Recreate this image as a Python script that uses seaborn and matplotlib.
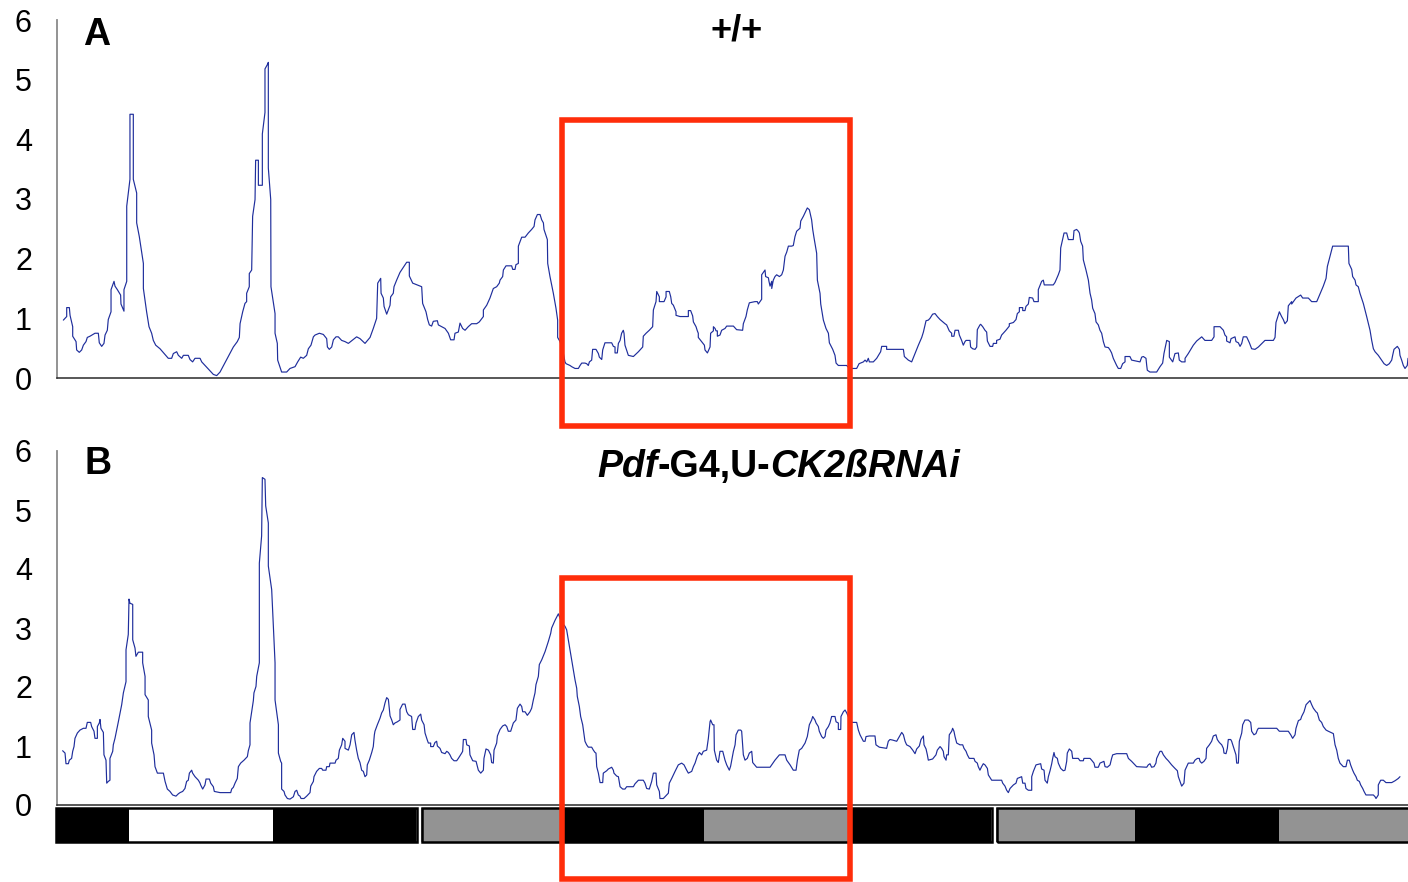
import matplotlib
matplotlib.use("Agg")
import matplotlib.pyplot as plt
import pandas as pd
import seaborn as sns
from matplotlib.patches import Rectangle
from matplotlib.offsetbox import TextArea, HPacker, AnchoredOffsetbox

sns.set_style("white")
plt.rcParams["font.family"] = ["Liberation Sans", "DejaVu Sans"]
plt.rcParams["text.color"] = "black"
plt.rcParams["ytick.color"] = "black"
plt.rcParams["ytick.labelcolor"] = "black"

# activity traces: (hours from start of recording, activity)
wt_points = [
    (0.53, 0.97), (0.81, 1.03), (0.81, 1.18), (1.03, 1.18), (1.09, 1.05), (1.31, 0.86), (1.31, 0.70), (1.59, 0.61), (1.64, 0.47), (1.86, 0.43),
    (2.06, 0.47), (2.20, 0.55), (2.42, 0.61), (2.53, 0.68), (2.75, 0.70), (3.17, 0.75), (3.45, 0.75), (3.53, 0.59), (3.73, 0.53), (3.92, 0.58),
    (4.01, 0.72), (4.20, 0.80), (4.28, 0.98), (4.51, 1.11), (4.51, 1.48), (4.76, 1.62), (4.84, 1.54), (5.04, 1.48), (5.31, 1.39), (5.34, 1.24),
    (5.59, 1.12), (5.59, 1.48), (5.82, 1.62), (5.82, 2.88), (5.95, 3.10), (6.09, 3.33), (6.09, 4.42), (6.37, 4.42), (6.37, 3.33), (6.65, 3.10),
    (6.65, 2.60), (6.87, 2.37), (7.21, 1.92), (7.21, 1.50), (7.48, 1.11), (7.68, 0.86), (7.90, 0.75), (8.04, 0.63), (8.24, 0.55), (8.60, 0.49),
    (9.29, 0.33), (9.57, 0.33), (9.71, 0.41), (9.99, 0.44), (10.13, 0.38), (10.41, 0.33), (10.55, 0.38), (10.96, 0.38), (11.10, 0.31), (11.32, 0.27),
    (11.52, 0.33), (11.94, 0.33), (12.08, 0.27), (13.05, 0.06), (13.33, 0.04), (13.61, 0.10), (14.72, 0.52), (15.05, 0.61), (15.22, 0.68), (15.28, 0.91),
    (15.50, 1.11), (15.69, 1.25), (15.83, 1.28), (15.83, 1.42), (16.05, 1.53), (16.05, 1.75), (16.25, 1.81), (16.33, 2.71), (16.53, 2.99), (16.58, 3.65),
    (16.81, 3.65), (16.81, 3.23), (17.14, 3.23), (17.14, 4.09), (17.36, 4.45), (17.36, 5.18), (17.58, 5.26), (17.64, 5.29), (17.64, 3.52), (17.84, 2.99),
    (17.86, 1.53), (18.20, 1.08), (18.20, 0.75), (18.39, 0.58), (18.42, 0.30), (18.75, 0.10), (19.17, 0.10), (19.45, 0.16), (19.87, 0.19), (20.09, 0.27),
    (20.34, 0.35), (20.56, 0.33), (20.84, 0.38), (20.98, 0.49), (21.20, 0.55), (21.40, 0.69), (21.54, 0.72), (21.90, 0.75), (22.23, 0.73), (22.51, 0.66),
    (22.57, 0.52), (22.73, 0.48), (22.93, 0.52), (23.07, 0.64), (23.29, 0.69), (23.48, 0.69), (23.76, 0.63), (24.04, 0.61), (24.32, 0.58), (25.01, 0.69),
    (25.29, 0.66), (25.71, 0.58), (26.13, 0.68), (26.40, 0.83), (26.68, 1.00), (26.77, 1.59), (27.02, 1.67), (27.05, 1.42), (27.24, 1.34), (27.30, 1.20),
    (27.52, 1.07), (27.80, 1.22), (27.85, 1.36), (28.07, 1.42), (28.13, 1.53), (28.35, 1.64), (28.63, 1.77), (28.96, 1.87), (29.19, 1.94), (29.41, 1.94),
    (29.41, 1.71), (29.69, 1.59), (30.44, 1.53), (30.52, 1.25), (30.80, 1.11), (30.94, 0.98), (31.08, 0.89), (31.27, 0.87), (31.41, 0.95), (31.75, 0.96),
    (31.83, 0.89), (32.11, 0.86), (32.39, 0.83), (32.67, 0.75), (32.86, 0.64), (33.14, 0.64), (33.22, 0.75), (33.50, 0.77), (33.64, 0.92), (33.86, 0.83),
    (34.06, 0.80), (34.33, 0.86), (34.61, 0.91), (35.03, 0.91), (35.25, 0.94), (35.59, 1.03), (35.59, 1.14), (35.87, 1.22), (36.14, 1.34), (36.42, 1.50),
    (36.70, 1.53), (36.92, 1.59), (36.98, 1.64), (37.20, 1.70), (37.26, 1.81), (37.48, 1.88), (37.95, 1.88), (38.04, 1.82), (38.23, 1.82), (38.31, 1.90),
    (38.51, 1.92), (38.51, 2.21), (38.79, 2.36), (39.07, 2.36), (39.34, 2.43), (39.62, 2.49), (39.82, 2.54), (39.90, 2.65), (40.10, 2.74), (40.32, 2.74),
    (40.46, 2.65), (40.60, 2.60), (40.65, 2.49), (40.93, 2.32), (40.96, 1.92), (41.15, 1.70), (41.43, 1.42), (41.65, 1.17), (41.79, 0.97), (41.79, 0.68),
    (41.99, 0.61), (42.27, 0.41), (42.40, 0.27), (42.49, 0.24), (42.82, 0.21), (42.96, 0.19), (43.24, 0.16), (43.52, 0.16), (43.66, 0.21), (43.80, 0.25),
    (44.07, 0.25), (44.21, 0.24), (44.35, 0.21), (44.44, 0.27), (44.63, 0.30), (44.71, 0.48), (44.99, 0.48), (45.19, 0.41), (45.27, 0.35), (45.47, 0.31),
    (45.55, 0.47), (45.74, 0.59), (46.30, 0.59), (46.44, 0.53), (46.58, 0.52), (46.58, 0.42), (46.77, 0.42), (46.86, 0.58), (47.00, 0.63), (47.13, 0.75),
    (47.27, 0.80), (47.33, 0.75), (47.41, 0.55), (47.69, 0.38), (48.11, 0.36), (48.53, 0.44), (48.89, 0.52), (48.94, 0.70), (49.17, 0.75), (49.44, 0.80),
    (49.72, 0.86), (49.78, 1.14), (50.00, 1.28), (50.06, 1.45), (50.28, 1.36), (50.28, 1.28), (50.67, 1.28), (50.84, 1.36), (50.84, 1.45), (51.11, 1.45),
    (51.23, 1.36), (51.31, 1.25), (51.45, 1.22), (51.67, 1.11), (51.67, 1.05), (52.00, 1.03), (52.70, 1.03), (52.70, 1.13), (52.89, 1.13), (53.06, 1.04),
    (53.12, 0.94), (53.34, 0.86), (53.45, 0.79), (53.53, 0.75), (53.53, 0.68), (53.81, 0.61), (54.04, 0.55), (54.09, 0.47), (54.29, 0.42), (54.51, 0.52),
    (54.56, 0.75), (54.79, 0.79), (54.79, 0.86), (54.93, 0.83), (55.01, 0.79), (55.12, 0.79), (55.12, 0.70), (55.34, 0.72), (55.48, 0.80), (55.76, 0.83),
    (55.90, 0.87), (56.46, 0.87), (56.73, 0.81), (57.23, 0.80), (57.29, 0.91), (57.51, 1.03), (57.62, 1.14), (57.79, 1.26), (58.26, 1.28), (58.46, 1.28),
    (58.54, 1.24), (58.82, 1.32), (58.82, 1.73), (59.10, 1.81), (59.15, 1.70), (59.38, 1.68), (59.43, 1.62), (59.52, 1.54), (59.66, 1.62), (59.66, 1.50),
    (59.79, 1.64), (59.93, 1.70), (60.07, 1.73), (60.30, 1.70), (60.49, 1.73), (60.63, 1.81), (60.77, 2.04), (60.91, 2.11), (61.05, 2.21), (61.32, 2.21),
    (61.46, 2.22), (61.60, 2.37), (61.74, 2.46), (62.02, 2.51), (62.08, 2.63), (62.30, 2.71), (62.49, 2.79), (62.63, 2.85), (62.80, 2.82), (62.99, 2.65),
    (63.08, 2.49), (63.19, 2.35), (63.41, 2.09), (63.47, 1.64), (63.69, 1.42), (63.75, 1.24), (63.97, 0.97), (64.19, 0.83), (64.39, 0.75), (64.47, 0.59),
    (64.75, 0.48), (64.94, 0.38), (65.03, 0.25), (65.22, 0.21), (65.92, 0.21), (66.00, 0.19), (66.33, 0.16), (66.75, 0.16), (66.95, 0.24), (67.31, 0.27),
    (67.45, 0.30), (67.59, 0.27), (67.72, 0.33), (67.81, 0.27), (68.14, 0.27), (68.42, 0.33), (68.75, 0.44), (68.84, 0.53), (69.25, 0.53), (69.25, 0.48),
    (70.65, 0.48), (70.73, 0.36), (71.06, 0.30), (71.34, 0.27), (71.48, 0.34), (71.90, 0.55), (72.18, 0.68), (72.32, 0.77), (72.54, 0.96), (72.73, 0.97),
    (72.87, 1.00), (73.09, 1.07), (73.29, 1.08), (73.48, 1.03), (73.71, 0.98), (74.12, 0.91), (74.26, 0.89), (74.48, 0.79), (74.68, 0.75), (74.68, 0.70),
    (74.87, 0.70), (74.96, 0.80), (75.24, 0.80), (75.32, 0.72), (75.51, 0.63), (75.65, 0.55), (75.79, 0.61), (75.88, 0.63), (76.21, 0.63), (76.26, 0.52),
    (76.43, 0.49), (76.63, 0.48), (76.77, 0.52), (76.82, 0.81), (77.04, 0.89), (77.10, 0.90), (77.27, 0.86), (77.46, 0.80), (77.60, 0.77), (77.66, 0.62),
    (77.88, 0.53), (78.10, 0.53), (78.16, 0.58), (78.43, 0.58), (78.43, 0.63), (78.71, 0.65), (78.85, 0.72), (79.21, 0.80), (79.49, 0.87), (79.49, 0.91),
    (79.83, 0.93), (80.05, 0.98), (80.16, 1.08), (80.33, 1.11), (80.33, 1.18), (80.61, 1.18), (80.61, 1.13), (80.80, 1.13), (80.88, 1.20), (81.08, 1.24),
    (81.16, 1.35), (81.44, 1.34), (81.55, 1.28), (81.91, 1.28), (81.91, 1.48), (82.19, 1.62), (82.33, 1.64), (82.41, 1.56), (83.16, 1.56), (83.30, 1.60),
    (83.58, 1.73), (83.72, 1.81), (83.78, 2.18), (83.94, 2.32), (84.06, 2.43), (84.28, 2.43), (84.42, 2.32), (84.83, 2.32), (84.89, 2.47), (85.11, 2.49),
    (85.25, 2.46), (85.34, 2.43), (85.45, 2.29), (85.61, 2.21), (85.67, 1.98), (85.89, 1.81), (86.09, 1.64), (86.23, 1.42), (86.36, 1.31), (86.45, 1.17),
    (86.64, 1.08), (86.73, 0.94), (86.92, 0.89), (87.06, 0.80), (87.20, 0.75), (87.34, 0.61), (87.48, 0.52), (87.76, 0.51), (87.90, 0.47), (88.03, 0.42),
    (88.17, 0.33), (88.31, 0.27), (88.45, 0.21), (88.59, 0.16), (88.79, 0.16), (88.95, 0.24), (89.15, 0.27), (89.15, 0.36), (89.56, 0.36), (89.70, 0.30),
    (90.40, 0.27), (90.54, 0.35), (90.68, 0.36), (90.90, 0.33), (90.96, 0.21), (91.01, 0.13), (91.23, 0.10), (91.79, 0.10), (92.07, 0.19), (92.29, 0.25),
    (92.40, 0.41), (92.63, 0.63), (92.85, 0.61), (92.85, 0.35), (93.13, 0.27), (93.32, 0.41), (93.60, 0.42), (93.68, 0.30), (93.88, 0.27), (94.16, 0.27),
    (94.16, 0.33), (94.43, 0.41), (94.85, 0.55), (95.13, 0.62), (95.55, 0.69), (95.82, 0.63), (96.38, 0.63), (96.58, 0.69), (96.58, 0.86), (97.08, 0.86),
    (97.36, 0.80), (97.49, 0.72), (97.63, 0.69), (97.63, 0.62), (97.91, 0.59), (98.00, 0.66), (98.33, 0.69), (98.41, 0.61), (98.61, 0.59), (98.75, 0.53),
    (98.89, 0.58), (99.02, 0.69), (99.30, 0.69), (99.53, 0.59), (99.72, 0.49), (100.00, 0.48), (100.28, 0.52), (100.83, 0.63), (101.53, 0.63), (101.67, 0.68),
    (101.75, 0.93), (102.03, 1.11), (102.22, 1.03), (102.36, 0.98), (102.50, 0.91), (102.70, 0.96), (102.78, 1.21), (103.06, 1.28), (103.06, 1.24), (103.42, 1.34),
    (103.81, 1.39), (103.98, 1.34), (104.45, 1.34), (104.73, 1.28), (105.15, 1.28), (105.28, 1.34), (105.70, 1.54), (105.93, 1.67), (106.04, 1.87), (106.26, 2.04),
    (106.48, 2.21), (107.79, 2.21), (107.84, 1.92), (108.07, 1.82), (108.15, 1.70), (108.35, 1.64), (108.43, 1.56), (108.62, 1.53), (108.76, 1.42), (109.04, 1.25),
    (109.32, 1.03), (109.60, 0.80), (109.74, 0.63), (109.88, 0.49), (110.02, 0.44), (110.29, 0.38), (110.57, 0.30), (110.77, 0.24), (110.99, 0.21), (111.21, 0.24),
    (111.41, 0.30), (111.49, 0.38), (111.60, 0.48), (111.88, 0.53), (112.05, 0.48), (112.10, 0.38), (112.24, 0.30), (112.38, 0.21), (112.52, 0.16), (112.71, 0.21),
    (112.77, 0.33),
]

rnai_points = [
    (0.47, 0.92), (0.67, 0.88), (0.75, 0.70), (0.95, 0.70), (1.03, 0.76), (1.22, 0.79), (1.31, 0.91), (1.42, 0.99), (1.50, 1.13), (1.70, 1.22),
    (1.92, 1.27), (2.20, 1.30), (2.42, 1.30), (2.53, 1.40), (2.81, 1.40), (2.89, 1.33), (3.09, 1.25), (3.17, 1.13), (3.37, 1.13), (3.37, 1.33),
    (3.53, 1.39), (3.59, 1.45), (3.67, 1.30), (3.87, 1.23), (3.92, 0.85), (4.09, 0.76), (4.15, 0.37), (4.28, 0.40), (4.42, 0.42), (4.42, 0.79),
    (4.65, 0.91), (4.70, 1.02), (4.84, 1.13), (4.98, 1.27), (5.12, 1.41), (5.26, 1.56), (5.40, 1.70), (5.54, 1.90), (5.76, 2.09), (5.76, 2.63),
    (5.95, 2.89), (6.01, 3.49), (6.09, 3.42), (6.32, 3.40), (6.32, 2.80), (6.51, 2.66), (6.59, 2.52), (6.79, 2.59), (7.15, 2.59), (7.15, 2.41),
    (7.35, 2.18), (7.35, 1.87), (7.62, 1.78), (7.62, 1.50), (7.90, 1.27), (7.90, 1.05), (8.10, 0.85), (8.18, 0.65), (8.38, 0.54), (8.88, 0.54),
    (9.02, 0.40), (9.21, 0.27), (9.43, 0.23), (9.65, 0.17), (9.93, 0.15), (10.13, 0.19), (10.27, 0.21), (10.49, 0.23), (10.68, 0.28), (10.82, 0.40),
    (10.96, 0.42), (11.05, 0.54), (11.24, 0.59), (11.32, 0.54), (11.52, 0.48), (11.66, 0.45), (11.80, 0.42), (11.94, 0.37), (11.99, 0.34), (12.16, 0.27),
    (12.35, 0.34), (12.44, 0.44), (12.72, 0.44), (12.83, 0.37), (13.05, 0.31), (13.13, 0.23), (13.61, 0.21), (14.50, 0.21), (14.58, 0.27), (14.72, 0.30),
    (14.86, 0.37), (15.05, 0.45), (15.14, 0.65), (15.33, 0.71), (15.50, 0.74), (15.61, 0.76), (15.89, 0.82), (15.97, 0.92), (16.11, 1.02), (16.11, 1.39),
    (16.25, 1.58), (16.39, 1.77), (16.44, 1.90), (16.61, 2.01), (16.67, 2.18), (16.89, 2.41), (16.89, 4.10), (17.08, 4.56), (17.14, 5.55), (17.36, 5.52),
    (17.42, 5.07), (17.64, 4.78), (17.64, 4.05), (17.92, 3.65), (18.20, 2.41), (18.20, 1.78), (18.48, 1.36), (18.48, 0.88), (18.67, 0.74), (18.75, 0.71),
    (18.75, 0.27), (18.95, 0.23), (19.03, 0.17), (19.23, 0.11), (19.45, 0.10), (19.73, 0.14), (19.87, 0.23), (20.01, 0.25), (20.14, 0.17), (20.28, 0.15),
    (20.37, 0.11), (20.62, 0.11), (20.84, 0.15), (21.12, 0.21), (21.18, 0.32), (21.40, 0.40), (21.45, 0.48), (21.67, 0.57), (21.90, 0.62), (22.09, 0.62),
    (22.18, 0.59), (22.45, 0.59), (22.51, 0.65), (22.73, 0.65), (22.79, 0.71), (23.21, 0.71), (23.29, 0.76), (23.48, 0.79), (23.57, 0.93), (23.76, 1.02),
    (23.85, 1.13), (24.04, 1.08), (24.04, 0.96), (24.32, 0.93), (24.46, 1.02), (24.60, 1.19), (24.79, 1.23), (24.87, 1.10), (25.01, 0.93), (25.15, 0.79),
    (25.29, 0.72), (25.43, 0.59), (25.57, 0.57), (25.71, 0.48), (25.85, 0.51), (25.90, 0.68), (26.07, 0.76), (26.27, 0.89), (26.40, 0.99), (26.49, 1.19),
    (26.54, 1.25), (26.74, 1.36), (26.96, 1.47), (27.10, 1.56), (27.24, 1.61), (27.38, 1.73), (27.52, 1.82), (27.66, 1.79), (27.80, 1.51), (27.94, 1.44),
    (28.07, 1.36), (28.21, 1.39), (28.41, 1.41), (28.63, 1.44), (28.63, 1.62), (28.85, 1.71), (29.05, 1.71), (29.19, 1.58), (29.33, 1.53), (29.60, 1.50),
    (29.69, 1.28), (29.88, 1.28), (29.97, 1.39), (30.16, 1.50), (30.36, 1.54), (30.44, 1.44), (30.64, 1.36), (30.72, 1.22), (30.91, 1.10), (31.00, 1.05),
    (31.19, 1.05), (31.19, 0.99), (31.41, 0.99), (31.55, 1.06), (31.69, 1.08), (31.75, 1.00), (31.97, 0.96), (32.11, 0.89), (32.39, 0.87), (32.53, 0.91),
    (32.67, 0.89), (32.80, 0.85), (32.94, 0.79), (33.14, 0.75), (33.36, 0.75), (33.50, 0.79), (33.78, 0.88), (33.86, 0.91), (33.92, 1.11), (34.14, 1.11),
    (34.20, 1.02), (34.42, 1.00), (34.47, 0.85), (34.70, 0.75), (34.98, 0.74), (35.17, 0.59), (35.37, 0.54), (35.59, 0.59), (35.64, 0.79), (35.81, 0.95),
    (36.01, 0.93), (36.20, 0.85), (36.28, 0.72), (36.42, 0.71), (36.48, 0.93), (36.70, 1.05), (36.76, 1.17), (36.98, 1.28), (37.20, 1.34), (37.40, 1.36),
    (37.54, 1.33), (37.67, 1.25), (37.87, 1.25), (37.95, 1.30), (38.09, 1.39), (38.31, 1.44), (38.43, 1.64), (38.65, 1.71), (38.79, 1.67), (38.87, 1.58),
    (39.07, 1.58), (39.26, 1.52), (39.48, 1.58), (39.62, 1.64), (39.76, 1.78), (39.90, 1.90), (39.98, 2.04), (40.18, 2.18), (40.26, 2.38), (40.46, 2.46),
    (40.74, 2.60), (41.01, 2.77), (41.21, 2.91), (41.29, 3.00), (41.57, 3.13), (41.85, 3.24), (42.04, 3.14), (42.27, 3.06), (42.40, 3.03), (42.54, 2.97),
    (42.68, 2.80), (42.82, 2.63), (42.96, 2.46), (43.10, 2.29), (43.24, 2.12), (43.38, 1.98), (43.43, 1.84), (43.60, 1.67), (43.71, 1.50), (43.88, 1.36),
    (43.99, 1.19), (44.07, 1.08), (44.21, 1.02), (44.35, 0.98), (44.63, 0.98), (44.77, 0.93), (44.91, 0.89), (44.99, 0.88), (45.05, 0.65), (45.19, 0.54),
    (45.33, 0.38), (45.55, 0.38), (45.60, 0.54), (45.88, 0.58), (46.02, 0.61), (46.30, 0.64), (46.44, 0.59), (46.49, 0.54), (46.72, 0.49), (46.86, 0.48),
    (47.00, 0.31), (47.22, 0.27), (47.41, 0.27), (47.55, 0.31), (48.11, 0.31), (48.25, 0.36), (48.53, 0.42), (48.94, 0.42), (49.08, 0.37), (49.22, 0.28),
    (49.44, 0.27), (49.64, 0.40), (49.78, 0.54), (50.00, 0.54), (50.06, 0.34), (50.28, 0.23), (50.33, 0.11), (50.61, 0.11), (51.03, 0.20), (51.11, 0.37),
    (51.31, 0.45), (51.59, 0.57), (51.86, 0.68), (52.14, 0.71), (52.34, 0.68), (52.56, 0.59), (52.70, 0.54), (52.98, 0.57), (53.12, 0.65), (53.26, 0.71),
    (53.45, 0.83), (53.62, 0.89), (53.81, 0.85), (53.95, 0.91), (54.23, 0.93), (54.37, 1.13), (54.51, 1.41), (54.56, 1.44), (54.73, 1.36), (54.84, 1.36),
    (54.87, 0.93), (55.06, 0.76), (55.20, 0.72), (55.34, 0.91), (55.57, 0.91), (55.76, 0.76), (55.90, 0.68), (56.12, 0.59), (56.23, 0.66), (56.32, 0.76),
    (56.46, 0.91), (56.60, 1.02), (56.68, 1.19), (56.87, 1.27), (57.07, 1.27), (57.15, 1.25), (57.23, 1.02), (57.29, 0.85), (57.43, 0.76), (57.62, 0.79),
    (57.79, 0.88), (57.99, 0.91), (58.07, 0.72), (58.40, 0.64), (59.52, 0.64), (59.66, 0.68), (59.93, 0.76), (60.30, 0.85), (60.77, 0.85), (60.91, 0.76),
    (61.19, 0.68), (61.46, 0.59), (61.69, 0.59), (61.80, 0.76), (61.96, 0.93), (62.16, 0.96), (62.44, 1.05), (62.63, 1.16), (62.80, 1.36), (62.99, 1.44),
    (63.08, 1.50), (63.27, 1.44), (63.36, 1.39), (63.55, 1.33), (63.63, 1.25), (63.83, 1.16), (63.97, 1.13), (64.11, 1.16), (64.19, 1.27), (64.39, 1.33),
    (64.52, 1.39), (64.66, 1.50), (64.94, 1.50), (65.03, 1.41), (65.22, 1.39), (65.22, 1.28), (65.42, 1.28), (65.44, 1.50), (65.64, 1.58), (65.78, 1.61),
    (65.92, 1.56), (66.05, 1.50), (66.19, 1.41), (66.42, 1.40), (66.75, 1.40), (66.89, 1.27), (67.03, 1.19), (67.31, 1.08), (67.45, 1.08), (67.53, 1.16),
    (67.81, 1.17), (68.28, 1.17), (68.36, 1.02), (68.64, 0.98), (69.25, 0.96), (69.39, 1.08), (69.53, 1.11), (69.76, 1.10), (70.09, 1.08), (70.31, 1.16),
    (70.51, 1.23), (70.65, 1.19), (70.79, 1.08), (70.92, 1.02), (71.20, 0.99), (71.43, 0.93), (71.62, 0.87), (71.76, 0.95), (71.98, 1.00), (72.12, 1.11),
    (72.32, 1.17), (72.37, 1.02), (72.54, 0.95), (72.65, 0.85), (72.73, 0.76), (73.09, 0.78), (73.37, 0.85), (73.48, 0.93), (73.71, 0.99), (73.84, 0.96),
    (73.98, 0.91), (74.04, 0.82), (74.21, 0.76), (74.26, 0.85), (74.40, 0.85), (74.48, 1.19), (74.68, 1.25), (74.76, 1.30), (74.87, 1.25), (74.96, 1.16),
    (75.10, 1.05), (75.37, 1.02), (75.60, 1.02), (75.71, 0.96), (75.88, 0.91), (75.99, 0.85), (76.15, 0.79), (76.54, 0.79), (76.63, 0.74), (76.82, 0.71),
    (76.90, 0.65), (77.04, 0.59), (77.18, 0.65), (77.32, 0.70), (77.46, 0.68), (77.66, 0.62), (77.74, 0.51), (77.93, 0.45), (78.02, 0.42), (78.85, 0.42),
    (78.94, 0.37), (79.13, 0.32), (79.27, 0.25), (79.41, 0.21), (79.55, 0.28), (79.83, 0.34), (80.05, 0.37), (80.16, 0.45), (80.52, 0.48), (80.61, 0.37),
    (80.80, 0.37), (80.88, 0.28), (81.08, 0.25), (81.36, 0.25), (81.36, 0.48), (81.50, 0.57), (81.72, 0.68), (82.11, 0.70), (82.19, 0.61), (82.39, 0.59),
    (82.47, 0.42), (82.66, 0.37), (82.75, 0.48), (82.89, 0.58), (83.03, 0.70), (83.11, 0.79), (83.22, 0.89), (83.30, 0.82), (83.50, 0.79), (83.58, 0.71),
    (83.78, 0.62), (84.00, 0.58), (84.14, 0.59), (84.28, 0.74), (84.33, 0.88), (84.50, 0.95), (84.70, 0.91), (84.78, 0.79), (85.25, 0.79), (85.39, 0.75),
    (85.67, 0.75), (85.72, 0.79), (86.23, 0.79), (86.36, 0.76), (86.56, 0.71), (86.64, 0.64), (86.92, 0.64), (87.06, 0.71), (87.39, 0.74), (87.48, 0.65),
    (87.67, 0.64), (87.90, 0.68), (88.03, 0.79), (88.12, 0.85), (88.45, 0.87), (89.29, 0.87), (89.43, 0.79), (89.70, 0.74), (90.12, 0.65), (90.96, 0.64),
    (91.09, 0.68), (91.23, 0.70), (91.37, 0.64), (91.57, 0.65), (91.73, 0.71), (91.79, 0.79), (92.07, 0.91), (92.21, 0.91), (92.35, 0.85), (92.57, 0.79),
    (92.76, 0.75), (93.04, 0.68), (93.32, 0.62), (93.52, 0.58), (93.60, 0.48), (93.74, 0.40), (93.88, 0.32), (94.07, 0.37), (94.16, 0.59), (94.43, 0.71),
    (94.85, 0.71), (94.99, 0.76), (95.19, 0.79), (95.35, 0.79), (95.41, 0.74), (95.55, 0.71), (95.74, 0.74), (95.91, 0.79), (95.96, 0.96), (96.19, 1.02),
    (96.38, 1.08), (96.52, 1.17), (96.74, 1.19), (96.85, 1.11), (97.02, 1.06), (97.22, 1.02), (97.36, 0.96), (97.41, 0.88), (97.58, 0.87), (97.69, 0.96),
    (97.77, 1.11), (97.97, 1.11), (98.05, 1.08), (98.19, 0.99), (98.41, 0.85), (98.47, 0.71), (98.61, 0.71), (98.69, 1.08), (98.89, 1.22), (98.97, 1.36),
    (99.16, 1.44), (99.44, 1.44), (99.64, 1.40), (99.72, 1.25), (99.91, 1.19), (100.08, 1.21), (100.19, 1.27), (100.28, 1.30), (101.81, 1.30), (102.03, 1.25),
    (102.78, 1.25), (102.98, 1.19), (103.14, 1.13), (103.34, 1.19), (103.42, 1.30), (103.62, 1.43), (103.81, 1.45), (103.89, 1.50), (104.09, 1.58), (104.26, 1.70),
    (104.45, 1.74), (104.59, 1.77), (104.73, 1.70), (104.87, 1.64), (105.09, 1.58), (105.20, 1.56), (105.37, 1.44), (105.56, 1.40), (105.70, 1.33), (105.93, 1.27),
    (106.12, 1.25), (106.54, 1.21), (106.68, 1.02), (106.82, 0.93), (106.95, 0.79), (107.09, 0.71), (107.37, 0.65), (107.59, 0.65), (107.71, 0.76), (107.87, 0.76),
    (107.98, 0.68), (108.15, 0.59), (108.26, 0.54), (108.43, 0.48), (108.54, 0.42), (108.71, 0.40), (108.82, 0.34), (108.99, 0.28), (109.10, 0.23), (109.26, 0.17),
    (109.88, 0.17), (110.02, 0.14), (110.10, 0.11), (110.29, 0.17), (110.29, 0.34), (110.49, 0.42), (110.71, 0.42), (110.93, 0.38), (111.41, 0.38), (111.68, 0.41),
    (111.96, 0.45), (112.10, 0.48),
]

y_ticks = [0, 1, 2, 3, 4, 5, 6]
x_end = 112.77

# light regime bar: LD (dark/light/dark) then DD, gray = subjective day
phase_edges = [0, 6, 18, 30, 42, 54, 66, 78, 90, 102, 114]
phase_colors = ["black", "white", "black", "#939393", "black",
                "#939393", "black", "#939393", "black", "#939393"]
bar_groups = [(0, 30), (30, 78), (78, 114)]

# highlighted window and box tops/bottoms (activity units)
box_hours = (42.15, 66.2)
box_a = (-0.80, 4.32)
box_b = (-1.26, 3.85)

line_blue = "#1f2e9c"
box_red = "#ff2d0a"

W, H = 1408, 882
fig = plt.figure(figsize=(W / 100, H / 100), dpi=100)
ax_a = fig.add_axes([57 / W, 1 - 378 / H, 1351 / W, 358 / H])
ax_b = fig.add_axes([57 / W, 1 - 805 / H, 1351 / W, 354 / H])
ax_bar = fig.add_axes([57 / W, 1 - 842 / H, 1351 / W, 34 / H])
ax_b.set_zorder(3)

for ax, pts, box in [(ax_a, wt_points, box_a), (ax_b, rnai_points, box_b)]:
    df = pd.DataFrame(pts, columns=["hours", "activity"])
    sns.lineplot(data=df, x="hours", y="activity", ax=ax, estimator=None,
                 sort=False, color=line_blue, linewidth=0.85)
    ax.set_xlim(0, x_end)
    ax.set_ylim(0, 6)
    ax.set_yticks(y_ticks)
    ax.set_xticks([])
    ax.set_xlabel("")
    ax.set_ylabel("")
    ax.patch.set_visible(False)
    ax.spines["top"].set_visible(False)
    ax.spines["right"].set_visible(False)
    ax.spines["left"].set_color("#8a8a8a")
    ax.spines["left"].set_linewidth(1.3)
    ax.spines["bottom"].set_color("#2a2a2a")
    ax.spines["bottom"].set_linewidth(1.1)
    ax.tick_params(axis="y", length=0, pad=18, labelsize=22, labelcolor="black")
    ax.add_patch(Rectangle((box_hours[0], box[0]), box_hours[1] - box_hours[0],
                           box[1] - box[0], fill=False, edgecolor=box_red,
                           linewidth=4, clip_on=False, zorder=6, joinstyle="miter"))

ax_a.text(0.0195, 0.958, "A", transform=ax_a.transAxes, fontsize=27,
          fontweight="bold", ha="left", va="center", color="black")
ax_a.text(0.503, 0.968, "+/+", transform=ax_a.transAxes, fontsize=26,
          fontweight="bold", ha="center", va="center", color="black")
ax_b.text(0.0205, 0.962, "B", transform=ax_b.transAxes, fontsize=27,
          fontweight="bold", ha="left", va="center", color="black")

title_parts = [("Pdf", "italic"), ("-G4,U-", "normal"), ("CK2ßRNAi", "italic")]
areas = [TextArea(t, textprops=dict(fontsize=27, fontweight="bold", fontstyle=s,
                                    color="black"))
         for t, s in title_parts]
packed = HPacker(children=areas, align="baseline", pad=0, sep=0)
ax_b.add_artist(AnchoredOffsetbox(loc="center", child=packed, pad=0, borderpad=0,
                                  frameon=False, bbox_to_anchor=(0.534, 0.955),
                                  bbox_transform=ax_b.transAxes))

# light / dark bar
for left, right, c in zip(phase_edges[:-1], phase_edges[1:], phase_colors):
    ax_bar.barh(0.5, right - left, left=left, height=1, color=c,
                edgecolor="none", clip_on=False, zorder=1)
for g0, g1 in bar_groups[1:]:
    ax_bar.barh(0.5, 0.3, left=g0 + 0.12, height=1.3, color="white",
                edgecolor="none", clip_on=False, zorder=2)
for i, (g0, g1) in enumerate(bar_groups):
    lo = g0 - 0.08 if i == 0 else g0 + 0.5
    hi = g1 + 0.04 if i < len(bar_groups) - 1 else g1
    ax_bar.barh(0.5, hi - lo, left=lo, height=1, facecolor="none",
                edgecolor="black", linewidth=1.8, clip_on=False, zorder=3)
ax_bar.set_xlim(0, x_end)
ax_bar.set_ylim(0, 1)
ax_bar.axis("off")

fig.savefig("out.png", dpi=100)
